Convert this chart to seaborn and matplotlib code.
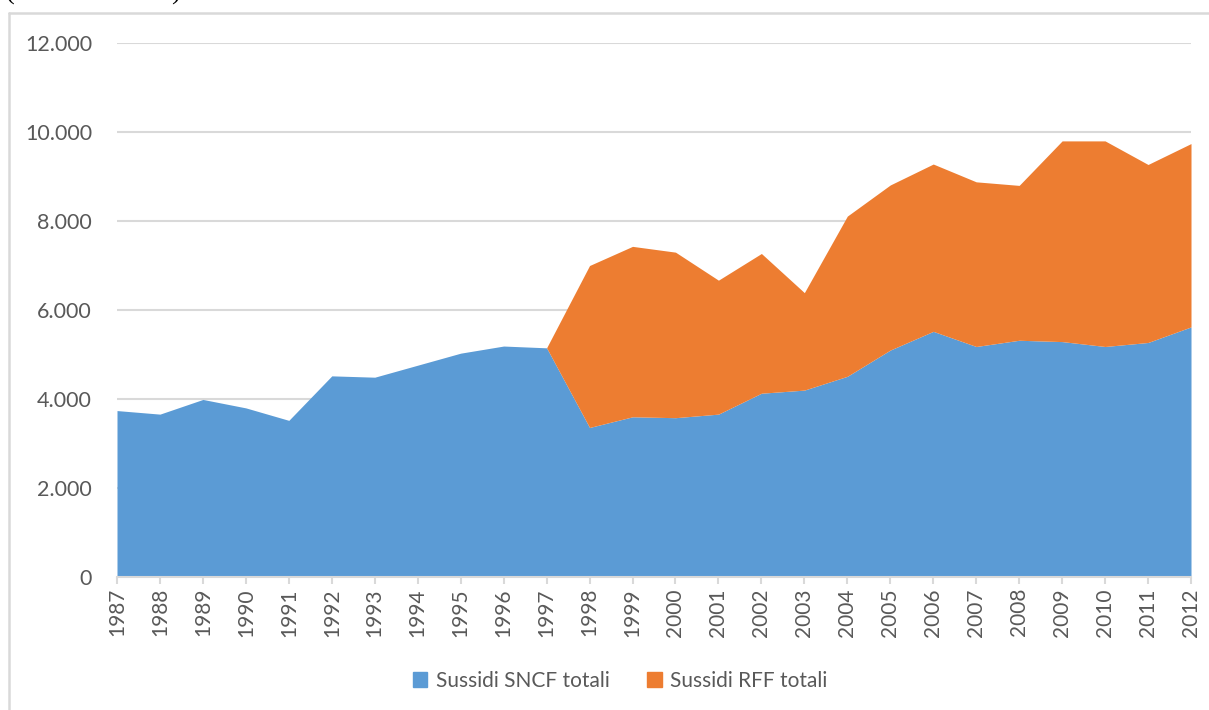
import matplotlib
matplotlib.use("Agg")
import matplotlib.pyplot as plt
from matplotlib.lines import Line2D
from matplotlib.patches import Patch
from matplotlib.ticker import FuncFormatter, MultipleLocator
import seaborn as sns
import pandas as pd

# ── Dati (milioni di euro) ────────────────────────────────────────────────
anni = list(range(1987, 2013))
sussidi_sncf = [3740, 3660, 3990, 3800, 3520, 4520, 4490, 4760, 5030, 5190,
                5150, 3360, 3600, 3580, 3660, 4130, 4200, 4510, 5100, 5520,
                5180, 5320, 5290, 5180, 5270, 5620]
sussidi_rff = [0, 0, 0, 0, 0, 0, 0, 0, 0, 0,
               0, 3640, 3830, 3720, 3010, 3140, 2190, 3600, 3710, 3760,
               3700, 3480, 4510, 4620, 4000, 4120]
etichette = ["Sussidi SNCF totali", "Sussidi RFF totali"]
colori = ["#5b9bd5", "#ed7d31"]

df = pd.DataFrame({"anno": anni, etichette[0]: sussidi_sncf, etichette[1]: sussidi_rff})

sns.set_theme(style="white")
plt.rcParams["font.family"] = ["Lato", "DejaVu Sans"]
GRIGIO = "#595959"
LINEA = "#d9d9d9"

fig = plt.figure(figsize=(12.09, 7.10), dpi=100)
ax = fig.add_axes([117 / 1209, 1 - 577 / 710, (1191 - 117) / 1209, (577 - 43) / 710])

ax.stackplot(df["anno"], df[etichette[0]], df[etichette[1]],
             colors=colori, labels=etichette, linewidth=0)

ax.set_xlim(1987, 2012)
ax.set_ylim(0, 12000)
ax.yaxis.set_major_locator(MultipleLocator(2000))
ax.yaxis.set_major_formatter(FuncFormatter(lambda v, p: f"{int(v):,}".replace(",", ".")))
ax.set_xticks(anni)
ax.set_xticklabels([str(a) for a in anni], rotation=90)

ax.grid(axis="y", color=LINEA, linewidth=1.5)
ax.set_axisbelow(True)
for s in ["left", "right", "top"]:
    ax.spines[s].set_visible(False)
ax.spines["bottom"].set_color(LINEA)
ax.spines["bottom"].set_linewidth(1.5)
ax.spines["bottom"].set_zorder(5)
ax.tick_params(axis="x", which="major", bottom=True, length=5, width=1.5,
               color=LINEA, labelcolor=GRIGIO, labelsize=15, pad=3)
ax.tick_params(axis="y", left=False, labelcolor=GRIGIO, labelsize=15.5, pad=12)

maniglie = [Patch(color=c, label=l) for c, l in zip(colori, etichette)]
fig.legend(handles=maniglie, loc="center", bbox_to_anchor=(620 / 1209, 1 - 681 / 710),
           ncol=2, frameon=False, fontsize=15, labelcolor=GRIGIO,
           handlelength=0.7, handleheight=0.7, handletextpad=0.4, columnspacing=1.8)

# cornice del grafico
fig.add_artist(Line2D([9 / 1209, 1], [1 - 13 / 710, 1 - 13 / 710], color=LINEA, linewidth=1.8))
fig.add_artist(Line2D([9 / 1209, 9 / 1209], [0, 1 - 13 / 710], color=LINEA, linewidth=1.8))

# titolo tagliato in alto (si vedono solo le parentesi)
fig.text(6 / 1209, 1.0, "(milioni di euro)", fontsize=19, color="#000000",
         va="baseline", ha="left", family=["Liberation Serif", "DejaVu Serif"])

fig.savefig("out.png", dpi=100)
